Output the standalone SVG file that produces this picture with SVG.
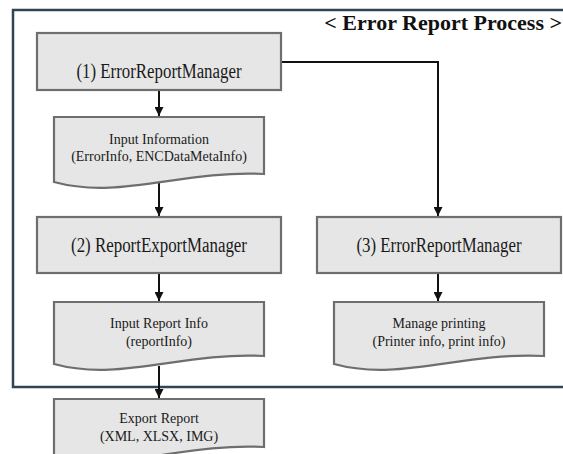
<svg xmlns="http://www.w3.org/2000/svg" width="563" height="454" viewBox="0 0 563 454">
  <style>
    .frame { fill: none; stroke: #2f4553; stroke-width: 2.5; }
    .box { fill: #e6e6e6; stroke: #6e6e6e; stroke-width: 2.2; }
    .doc { fill: #e6e6e6; stroke: #6e6e6e; stroke-width: 2.2; }
    text { font-family: 'Liberation Serif', 'DejaVu Serif', serif; fill: #1a1a1a; }
    .lbl { font-size: 20px; text-anchor: middle; }
    .dtxt { font-size: 14px; text-anchor: middle; }
    .title { font-size: 22px; font-weight: bold; fill: #111; text-anchor: end; }
    .conn { fill: none; stroke: #111; stroke-width: 2; }
  </style>
  <defs>
    <marker id="arrow" viewBox="0 0 10 10" refX="10" refY="5" markerWidth="4.5" markerHeight="4.5" orient="auto" markerUnits="strokeWidth">
      <path d="M0,0 L10,5 L0,10 z" fill="#111"/>
    </marker>
  </defs>

  <rect width="563" height="454" fill="#ffffff"/>

  <!-- process frame (open to the right) -->
  <path class="frame" d="M565,10 H13 V387 H565"/>
  <text class="title" x="562" y="30">&lt; Error Report Process &gt;</text>

  <!-- connectors -->
  <g id="connectors">
    <path class="conn" d="M159,90 V116" marker-end="url(#arrow)"/>
    <path class="conn" d="M159,183 V216" marker-end="url(#arrow)"/>
    <path class="conn" d="M159,273 V301" marker-end="url(#arrow)"/>
    <path class="conn" d="M159,366 V398" marker-end="url(#arrow)"/>
    <path class="conn" d="M281,62 H438 V216" marker-end="url(#arrow)"/>
    <path class="conn" d="M438,273 V301" marker-end="url(#arrow)"/>
  </g>

  <g id="node-error-report-manager-1">
    <rect class="box" x="37" y="33" width="244" height="57"/>
    <text class="lbl" x="159" y="78" textLength="165" lengthAdjust="spacingAndGlyphs">(1) ErrorReportManager</text>
  </g>

  <g id="node-input-information">
    <path class="doc" d="M54,117 H264 V174 C180,170 120,200 54,182 Z"/>
    <text class="dtxt" x="159" y="144">Input Information</text>
    <text class="dtxt" x="159" y="161">(ErrorInfo, ENCDataMetaInfo)</text>
  </g>

  <g id="node-report-export-manager">
    <rect class="box" x="37" y="217" width="244" height="56"/>
    <text class="lbl" x="159" y="252" textLength="176" lengthAdjust="spacingAndGlyphs">(2) ReportExportManager</text>
  </g>

  <g id="node-input-report-info">
    <path class="doc" d="M54,302 H264 V356 C180,352 120,382 54,364 Z"/>
    <text class="dtxt" x="159" y="328">Input Report Info</text>
    <text class="dtxt" x="159" y="346">(reportInfo)</text>
  </g>

  <g id="node-export-report">
    <path class="doc" d="M54,399 H264 V447 C180,443 120,473 54,455 Z"/>
    <text class="dtxt" x="159" y="423">Export Report</text>
    <text class="dtxt" x="159" y="441">(XML, XLSX, IMG)</text>
  </g>

  <g id="node-error-report-manager-3">
    <rect class="box" x="317" y="217" width="244" height="56"/>
    <text class="lbl" x="439" y="252" textLength="165" lengthAdjust="spacingAndGlyphs">(3) ErrorReportManager</text>
  </g>

  <g id="node-manage-printing">
    <path class="doc" d="M334,302 H544 V356 C460,352 400,382 334,364 Z"/>
    <text class="dtxt" x="439" y="328">Manage printing</text>
    <text class="dtxt" x="439" y="346">(Printer info, print info)</text>
  </g>
</svg>
